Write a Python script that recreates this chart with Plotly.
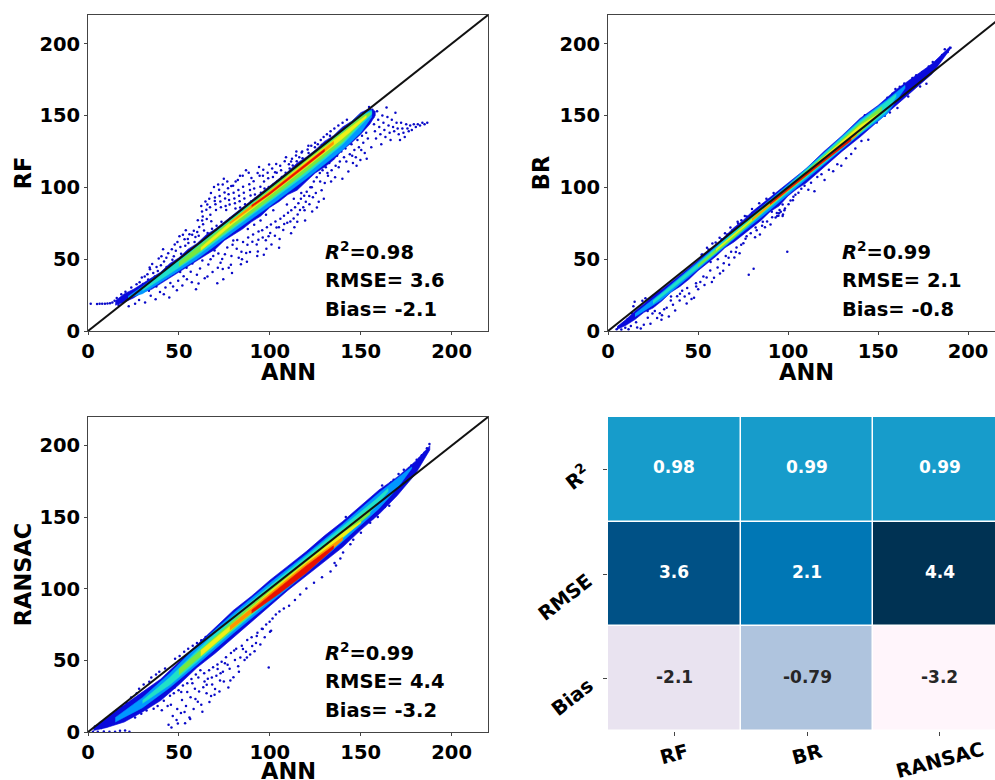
import plotly.graph_objects as go

FONT = "DejaVu Sans"
W, H = 995, 780

# identity reference
line_x = [0, 220]
line_y = [0, 220]
x_ticks = [0, 50, 100, 150, 200]
y_ticks = [0, 50, 100, 150, 200]
x_title = "ANN"

level_colors = ["#0a0adc", "#0098ff", "#20e0c8", "#78e840", "#f0f018", "#ff9400", "#e81000"]

# Density bands: (x, upper, lower) per density level
rf_bands = [
    ([15, 20, 25, 30, 35, 40, 45, 50, 55, 60, 65, 70, 75, 80, 85, 90, 95, 100, 105, 110, 115, 120, 125, 130, 135, 140, 145, 150, 155, 158],
     [21, 26, 29, 33, 37, 41, 47, 51, 57, 61, 67, 71, 76, 81, 86, 91, 96, 101, 106, 111, 117, 121, 126, 132, 136, 142, 146, 152, 155, 153],
     [18, 20, 23, 27, 29, 33, 37, 41, 45, 49, 53, 57, 63, 67, 71, 76, 80, 86, 90, 95, 98, 104, 110, 114, 119, 126, 131, 137, 144, 150]),
    ([22, 30, 45, 60, 80, 100, 120, 140, 150, 156], [24, 31, 45, 60, 80, 100.5, 120.5, 140.5, 151, 154], [23, 26, 38, 50, 69, 87, 106, 126, 138, 149]),
    ([30, 45, 60, 80, 100, 120, 140, 150, 156], [29, 44, 59.5, 79.5, 99.5, 119.5, 139.5, 150, 153], [28, 40, 52.5, 71, 90, 109, 130, 143, 151]),
    ([50, 60, 80, 100, 120, 140, 150, 155], [48, 58, 78.5, 98.5, 119, 138.5, 149, 152], [45, 54, 72.5, 91.5, 111, 131.5, 145, 150.5]),
    ([62, 80, 100, 120, 140, 153], [58, 77.5, 97.5, 118, 137.5, 150], [56, 75, 94.5, 114, 134, 148.5]),
    ([78, 100, 120, 135], [75.5, 97, 117, 132], [74.5, 95, 114.5, 130]),
    ([90, 100, 120, 130], [87.5, 96.5, 116.5, 126.5], [86.5, 95.2, 115.2, 125]),
]
br_bands = [
    ([5, 10, 15, 20, 25, 30, 35, 40, 45, 50, 55, 60, 65, 70, 75, 80, 85, 90, 95, 100, 105, 110, 115, 120, 130, 140, 150, 160, 170, 180, 190],
     [3, 8, 14, 19, 25, 29, 34, 39, 44, 49, 55, 60, 66, 72, 77, 83, 88, 93, 98, 103, 108, 113, 119, 125, 136, 148, 157, 168, 177, 186, 198],
     [1, 4, 8, 13, 16, 21, 27, 31, 36, 42, 47, 52, 58, 62, 67, 72, 77, 83, 87, 94, 99, 103, 108, 114, 125, 135, 146, 157, 168, 179, 196]),
    ([15, 30, 50, 70, 85, 100, 120, 140, 155, 165], [12, 27, 48, 70, 86, 102, 124, 147, 161, 171], [10, 22, 43, 64, 79, 95, 116, 137, 151, 169]),
    ([25, 50, 70, 85, 100, 120, 140, 155, 160], [21, 47, 69, 85, 101, 123.5, 146, 160, 165], [19, 44, 65, 81, 97, 117, 137.5, 153, 163]),
    ([50, 70, 85, 100, 120, 140, 152], [46, 67.5, 84, 100, 122, 144.5, 156], [44.5, 65, 81.5, 97.5, 118, 138, 152]),
    ([60, 85, 100, 120, 140, 150], [57, 83, 99.5, 121, 143, 151], [56, 82, 98, 119, 139, 150]),
    ([80, 100, 120, 138], [78, 99, 119.5, 137], [77, 98, 118, 136]),
    ([90, 100, 120, 135], [89, 98.8, 119, 134], [88, 98, 118, 132.5]),
]
ransac_bands = [
    ([3, 10, 20, 30, 40, 50, 60, 70, 80, 90, 100, 110, 120, 130, 140, 150, 160, 170, 180, 188],
     [3, 10, 19, 28, 37, 49, 61, 73, 85, 95, 106, 116, 126, 137, 147, 158, 169, 178, 189, 200],
     [1, 3, 7, 14, 22, 33, 45, 55, 66, 77, 88, 99, 109, 119, 129, 141, 152, 165, 180, 197]),
    ([15, 30, 45, 60, 80, 100, 120, 140, 160, 170, 178], [10, 24, 41, 60, 83, 104, 124, 145, 167, 177, 185], [7, 17, 31, 47, 69, 90, 111, 133, 156, 170, 184]),
    ([30, 45, 60, 80, 100, 120, 140, 158, 165], [22, 38, 57, 81, 102, 122.5, 143, 162, 170], [20, 33, 49, 71, 92, 113, 135, 157, 168]),
    ([50, 60, 80, 100, 120, 140, 155], [44, 55, 78, 100, 120.5, 141, 156], [40, 50, 72, 93, 114, 136, 152]),
    ([62, 80, 100, 120, 140, 150], [57, 76, 98, 118.5, 139, 147], [53, 73, 94, 115, 136, 146]),
    ([78, 100, 120, 140], [74, 97, 117.5, 136], [71, 93.5, 112, 134]),
    ([90, 105, 120, 135], [85, 100.5, 116, 130], [83, 96.5, 111, 128]),
]

# Speckle: (x, y)
rf_speckle = [
    (1.5, 19), (5, 18.8), (6.4, 19), (7.8, 19), (9.3, 19), (10.7, 19.2), (12.1, 19.4), (13.4, 19.8), (14.6, 21), (15.8, 23), (16.9, 18), (18.3, 25.5), (18.9, 20),
    (20.6, 27.4), (21.7, 24), (22.4, 17.2), (23.8, 30.3), (24.3, 26.8), (25.9, 19), (26.7, 32.6), (27.3, 28.4), (28.1, 21.5), (29.6, 37.2), (30.2, 32.8), (31.4, 19.8),
    (32.7, 39.5), (33.1, 35.8), (33.9, 44.2), (34.5, 24.6), (35.3, 46.6), (35.9, 40.3), (36.8, 37.9), (37.2, 22.1), (38.4, 41.8), (38.9, 50.4), (39.6, 27.1), (40.1, 45.8),
    (41.3, 57), (41.8, 48.4), (42.6, 30.2), (43.2, 44.5), (44.1, 54.2), (44.7, 23.3), (45.3, 33.4), (46.4, 49.6), (47.2, 52.1), (47.7, 60.3), (48.3, 55.9), (48.9, 28.4),
    (49.6, 35), (50.3, 66), (50.8, 58.5), (51.2, 53.7), (51.9, 31.6), (52.6, 38.2), (53.1, 63.9), (53.5, 59.4), (53.8, 70.2), (54.4, 36.1), (55.2, 61.3), (55.8, 67.4),
    (56.5, 41.2), (57.1, 33.9), (58.2, 69.8), (58.6, 62), (59.1, 65.4), (59.4, 29.1), (59.9, 39.2), (60.4, 77.1), (60.9, 66.3), (61.2, 72.4), (61.6, 43.5), (62.3, 87),
    (62.7, 83.2), (63.1, 79.8), (63.3, 74.3), (63.8, 70), (64.2, 36.7), (64.6, 90.2), (65.1, 84.4), (65.3, 78), (65.8, 68.2), (66.2, 46.3), (66.7, 92.1), (67.1, 86.2),
    (67.3, 81), (67.8, 76.4), (68.2, 71.2), (68.5, 41.1), (68.9, 52.3), (69.3, 100.2), (69.8, 93), (70.1, 88.3), (70.4, 84.2), (70.7, 73.2), (71.1, 33.2), (71.4, 44.1),
    (71.7, 54), (72.1, 98.3), (72.4, 94), (72.8, 90.1), (73.1, 86.2), (73.4, 76), (73.8, 50.1), (74.1, 43.2), (74.4, 36), (74.7, 106), (75.1, 96.4), (75.4, 92.2),
    (75.7, 87.1), (76, 84.3), (76.3, 75.2), (76.6, 58.2), (77, 99.3), (77.3, 95.2), (77.6, 91.2), (77.9, 88.1), (78.2, 78.3), (78.6, 46.1), (78.9, 52.2), (79.2, 40.4),
    (79.5, 60.1), (79.8, 101.2), (80.1, 96.3), (80.5, 92.2), (80.8, 89), (81.1, 85.2), (81.4, 80.1), (81.8, 57.2), (82.1, 63.3), (82.4, 105.1), (82.7, 98.2), (83.1, 94.1),
    (83.4, 90.3), (83.7, 86), (84.1, 46.4), (84.4, 55.2), (84.7, 50), (85.1, 108.1), (85.3, 100.4), (85.7, 96.2), (86, 92.3), (86.4, 88.2), (86.7, 84.1), (87, 54.3), (87.4, 48.2),
    (87.7, 60), (88.1, 65.1), (88.4, 110.1), (88.7, 102.2), (89.1, 98.1), (89.4, 94.4), (89.7, 90.1), (90, 87.2), (90.4, 62.2), (90.8, 67.1), (91.1, 104.3), (91.4, 99.2),
    (91.8, 95), (92.1, 92.2), (92.4, 88.3), (92.8, 60.3), (93.1, 52.2), (93.4, 55.3), (93.8, 69.2), (94.1, 114.2), (94.4, 108.1), (94.8, 100.4), (95.1, 96.3), (95.4, 91.2),
    (95.8, 70.1), (96.1, 65.1), (96.4, 112.3), (96.8, 104.1), (97.1, 99.2), (97.4, 94.2), (97.8, 63.2), (98.1, 57.2), (98.4, 72.2), (98.8, 110.1), (99.1, 106.3), (99.4, 100.2),
    (99.8, 95), (100.2, 68.2), (100.6, 74.1), (100.9, 60.2), (101.3, 113.2), (101.7, 107.2), (102.1, 102.1), (102.5, 97.2), (102.8, 66.3), (103.1, 76.2), (103.5, 116.3), (103.8, 110.2),
    (104.2, 104.2), (104.6, 99.3), (105, 72.2), (105.4, 64.1), (105.8, 78.1), (106.2, 112), (106.6, 107.2), (107, 103.4), (107.4, 70.3), (107.8, 80.2), (108.2, 118.2), (108.7, 110.2),
    (109.1, 105), (109.6, 75.3), (110, 82.3), (110.5, 116.1), (110.9, 113.2), (111.3, 76.2), (111.8, 84.1), (112.2, 120), (112.6, 115.2), (113.1, 78.4), (113.5, 72.2), (113.9, 86.2),
    (114.4, 122.2), (114.8, 118.1), (115.3, 81.1), (115.7, 89), (116.2, 121), (116.6, 84.2), (117.1, 92), (117.5, 124.2), (118, 120.2), (118.4, 86.1), (118.9, 94.1), (119.4, 77),
    (119.8, 90), (120.3, 97), (120.8, 126.3), (121.3, 124), (121.8, 88.2), (122.3, 100), (122.8, 129), (123.3, 83.2), (123.7, 93.1), (124.2, 104), (124.8, 128), (125.3, 96), (125.8, 107),
    (126.4, 130), (126.9, 90), (127.5, 110), (128, 133), (128.5, 98), (129, 112), (129.6, 135), (130.2, 103), (130.8, 114), (131.4, 137), (132, 108), (132.7, 117), (133.4, 139),
    (134, 112), (134.8, 120), (135.5, 141), (136.2, 115), (137, 122), (137.7, 143), (138.5, 118), (139.3, 125), (140, 145), (140.8, 121), (141.6, 127), (142.4, 147), (143.2, 111), (144, 123),
    (144.9, 130), (145.7, 117), (146.5, 126), (147.3, 121), (148.2, 133), (149, 128), (149.8, 119), (150.7, 136), (151.4, 131), (152.2, 124), (153, 138), (153.9, 134), (154.6, 156),
    (155.2, 152), (155.8, 128), (156.4, 154), (156.9, 149), (157.3, 144), (157.8, 139), (158.4, 134), (159, 153), (159.6, 147), (160.2, 142), (160.8, 137), (161.3, 130), (161.9, 150),
    (162.5, 145), (163, 140), (163.6, 135), (164.2, 155.6), (164.7, 149), (165.3, 143), (165.9, 138), (166.4, 133), (167.1, 147), (167.8, 142), (168.4, 139), (169.1, 152), (169.7, 145),
    (170.3, 141), (170.9, 137), (171.6, 133), (172.2, 145), (172.9, 141), (173.5, 138), (174.2, 135), (175, 144), (175.7, 141), (176.4, 139), (177.2, 143), (178.1, 140), (179.2, 144),
    (180.3, 142), (181.4, 144), (182.6, 143), (183.9, 145), (185.1, 144), (186.6, 145),
    (33.5, 28), (37.6, 31), (41.7, 25.5), (46.8, 31), (50.7, 41), (54.2, 44), (57.4, 47), (60.8, 33), (62.9, 49), (65.7, 38), (67.4, 50), (69.6, 56), (72.9, 47.5), (75.3, 53.5),
    (77.4, 44), (79.9, 63), (82.9, 51), (85.3, 62), (87.9, 71), (89.1, 55), (91.4, 74), (93.7, 63.5), (94.9, 77), (96.7, 53), (97.9, 81), (99.3, 66), (101.9, 84), (103.7, 72),
    (105.1, 58), (107.9, 74.5), (109.4, 88), (111.7, 68), (113.2, 92), (115.1, 76), (117.3, 96), (119.1, 84), (121.7, 94), (123.1, 100), (125.9, 86), (127.7, 104), (129.7, 92),
    (131.7, 110), (133.7, 104), (135.9, 107), (137.9, 114), (139.9, 106), (142.1, 118), (145.3, 122), (147.7, 115), (150.3, 126), (153.3, 120),
    (28.4, 34), (31.2, 38), (34.1, 43), (37.7, 44.5), (40.4, 52), (43.1, 51), (46.1, 57), (49.2, 62), (52.2, 67), (54.9, 64), (57.3, 67), (60.1, 69), (62.8, 77), (65.6, 88),
    (67.6, 96), (69.7, 90.5), (71.6, 102), (74.1, 102), (76.6, 104), (78.8, 101), (81.2, 104), (83.6, 108), (86.9, 112), (89.9, 106.5), (93.3, 110), (96.2, 108), (99.6, 116),
    (102.9, 110.5), (105.7, 115), (108.9, 121), (111.7, 118), (114.6, 125), (117.8, 125), (121.2, 129), (124.9, 131), (128.6, 129.5), (133.1, 136),
]
br_speckle = [
    (4.8, 1.2), (6.2, 3.1), (7.4, 1.1), (8.8, 5.4), (9.6, 2.2), (10.9, 8.2), (11.4, 1.3), (12.7, 3.4), (13.3, 12.4), (14.1, 17.2), (14.8, 20.3), (15.6, 6.1), (16.2, 2.4), (17.4, 14.2),
    (18.2, 1.8), (19.1, 21.1), (19.9, 4.3), (20.8, 22.8), (22.1, 9.2), (23.6, 5.1), (24.7, 12.2), (25.9, 18.1), (27.3, 9.1), (28.8, 12.3), (29.7, 7.8), (31.2, 15.1), (32.6, 16.2), (33.8, 10.1),
    (34.9, 21.2), (36.1, 18.2), (37.3, 14.3), (38.4, 24.2), (39.8, 21.3), (41.2, 28.1), (42.6, 24), (43.7, 19.1), (45.1, 26.1), (46.4, 22.3), (47.8, 23.1), (48.9, 33.2), (50.1, 29.1), (51.3, 34.2),
    (52.4, 53.2), (53.6, 32.1), (54.8, 37.3), (55.9, 56.8), (56.8, 42.1), (57.7, 34.2), (58.9, 37.1), (59.8, 61.7), (60.9, 44.2), (62.2, 40.1), (63.1, 63.9), (64.3, 47.2), (65.4, 52.3), (66.2, 67.2),
    (67.3, 46.1), (68.4, 55.2), (69.1, 70.1), (70.2, 51.2), (71.4, 58.1), (72.3, 74.9), (73.1, 54.2), (74.1, 77.1), (75.2, 61.1), (76.4, 64.3), (77.1, 79.8), (78.2, 39.2), (79.3, 68.1), (80.1, 82.1),
    (80.9, 43.3), (81.7, 65.2), (82.6, 70.2), (83.3, 85.1), (84.4, 67.1), (85.6, 73.3), (86.3, 88.1), (87.2, 72.2), (88.4, 76.3), (89.2, 91.2), (90.3, 74.1), (91.2, 79.2), (92.4, 94.3), (93.1, 79.1),
    (93.8, 82.2), (94.7, 80.3), (95.3, 84.2), (96.1, 97.8), (97.2, 81.1), (98.3, 85.3), (99.6, 55.1), (100.3, 88.2), (101.4, 90.8), (102.7, 91.1), (104.1, 94.8), (105.8, 96.2), (107.4, 99.1), (109.2, 101.2),
    (111.3, 98.4), (112.8, 103.2), (114.7, 97.3), (116.3, 107.2), (118.6, 109.1), (120.3, 105.1), (122.7, 112.2), (125.1, 111.3), (127.4, 116.1), (129.6, 115.1), (132.3, 120.3), (135.1, 123.2), (137.4, 127.1),
    (140.8, 132.2), (142.7, 150.2), (144.6, 133.1), (147.1, 152.8), (149.3, 145.2), (151.7, 157.1), (153.8, 149.8), (155.2, 162.4), (156.6, 152.2), (158.1, 165.2), (159.7, 168.4), (160.8, 155.3), (162.1, 170.1),
    (163.4, 166.3), (164.6, 172.3), (165.9, 168.1), (166.8, 163.2), (167.9, 174.1), (169.1, 176.2), (169.9, 172.4), (171.2, 178.1), (172.3, 174.3), (173.4, 170.2), (174.6, 180.3), (175.7, 177.1), (176.9, 172.2),
    (178.2, 184.1), (179.3, 180.1), (180.4, 187.2), (181.6, 183.1), (182.9, 186.4), (184.3, 189.1), (185.6, 192.2), (187.1, 196.1), (188.7, 194.2), (190.3, 197.2),
    (22, 14), (26, 14), (30, 11), (35, 24), (40, 26), (44, 30), (49, 31), (53, 38), (57, 48), (61, 50), (64, 42), (67, 51), (71, 55), (74, 60), (77, 66), (82, 72), (86, 76), (91, 83), (97, 88), (103, 93.5),
    (52, 53), (55, 58), (58, 61), (62, 65), (65, 68), (68, 72), (72, 76), (76, 80), (80, 85), (84, 89), (88, 92), (92, 96), (94, 80), (95, 82), (96, 83), (97, 80), (98, 84),
]
ransac_speckle = [
    (2.7, 0.2), (3.8, 3.9), (5.4, 0.1), (6.6, 6.2), (7.3, 2.8), (8.7, 0.3), (9.6, 8.3), (10.2, 4.2), (11.8, 0.2), (12.6, 12.1), (13.4, 6.1), (14.9, 0.1), (15.8, 15.2), (16.7, 8.1), (17.6, 0.9),
    (18.8, 17.3), (19.3, 9.2), (20.4, 1.1), (21.2, 20.3), (22.8, 0.2), (23.7, 24.1), (24.6, 13.2), (25.9, 10.1), (26.8, 27.1), (28.1, 30.2), (29.3, 12.8), (30.6, 33.2), (32.2, 15.1), (33.7, 35.1), (34.8, 38.1),
    (36.1, 16.2), (37.4, 40.2), (38.3, 18.1), (39.2, 42.1), (40.6, 15.2), (41.7, 21.8), (42.4, 44.3), (43.8, 18.1), (44.3, 5.1), (45.1, 25.3), (45.9, 3.2), (46.6, 11.2), (47.2, 27.1), (47.9, 51.1),
    (48.7, 8.3), (49.1, 16.1), (49.8, 29.2), (50.4, 53.1), (51.1, 13.2), (51.7, 22.3), (52.2, 32.4), (52.9, 56.1), (53.4, 6.1), (53.9, 18.2), (54.6, 34.1), (55.1, 58.1), (55.8, 10.1), (56.4, 24.2), (56.9, 37.1),
    (57.6, 60.2), (58.1, 16.1), (58.8, 30.2), (59.3, 40.1), (59.9, 62.1), (60.4, 21.1), (61.1, 28.3), (61.8, 43.1), (62.3, 64.1), (62.9, 14.2), (63.4, 31.2), (64.1, 35.3), (64.7, 66.3), (65.2, 27.1), (65.9, 37.2),
    (66.6, 43.2), (67.1, 68.2), (67.7, 25.1), (68.3, 33.2), (68.8, 45.3), (69.4, 70.2), (69.9, 30.1), (70.6, 39.2), (71.2, 47.1), (71.8, 72.3), (72.3, 28.2), (72.9, 41.1), (73.5, 49.1), (74.1, 74.2), (74.7, 35.3),
    (75.3, 48.1), (75.9, 52.2), (76.6, 77.2), (77.2, 31.1), (77.9, 44.1), (78.6, 55.2), (79.3, 79.4), (80, 38.3), (80.8, 50.2), (81.5, 58.1), (82.2, 81.2), (83, 42.1), (83.8, 52.1), (84.6, 60.2), (85.3, 85.3),
    (86.1, 50.2), (86.9, 56.1), (87.6, 64.2), (88.4, 88.3), (89.2, 54.1), (90, 66.2), (90.8, 91.1), (91.6, 56.4), (92.4, 62.1), (93.2, 69.3), (94, 94.2), (94.8, 61.1), (95.6, 72.1), (96.4, 96.3), (97.2, 66.1),
    (98, 75.1), (98.9, 99.2), (99.4, 45), (100.1, 70.1), (100.7, 70.8), (101.5, 79.3), (102.4, 102.2), (103.3, 82.1), (104.2, 105.1), (105.3, 84.1), (106.5, 108.3), (107.7, 86.2), (109.3, 110.2), (110.6, 88.1),
    (112.2, 114.1), (113.8, 92.2), (115.3, 118.3), (116.7, 96.1), (118.4, 122.2), (120.1, 100.2), (122.4, 126.3), (124.3, 104.2), (126.6, 130.1), (128.7, 108.1), (131.1, 134.2), (133.4, 112.1), (135.6, 118.1), (136.4, 116.3),
    (138.8, 121.2), (140.3, 125.3), (141.8, 150.2), (144.3, 131.1), (145.9, 134.2), (147.4, 153.2), (150.1, 139.1), (152.3, 156.3), (155.2, 146.1), (156.4, 149.2), (157.9, 160.1), (159.4, 150.1), (160.6, 168.3), (161.8, 172.2),
    (163.2, 157.1), (164.1, 171.3), (165.7, 158.1), (166.6, 174.3), (168.1, 176.1), (169.3, 166.2), (170.8, 180.2), (172.1, 172.3), (173.7, 183.1), (175.1, 177.2), (176.6, 184.1), (177.8, 186.2), (179.4, 187.1), (180.8, 190.2),
    (182.3, 191.1), (183.6, 193.2), (185.1, 195.1), (186.4, 198.2), (187.8, 201.1),
    (45.6, 19), (47.6, 31), (49.4, 6), (51.3, 28), (53.1, 14), (54.6, 28), (56.2, 9), (57.4, 34), (59.1, 23), (60.7, 38), (62.3, 19), (63.9, 41), (65.3, 33), (66.8, 21), (68.1, 38), (69.6, 26),
    (71.3, 44), (72.6, 36), (74.2, 42), (76.8, 47), (78.3, 36), (80.4, 57), (82.6, 46), (85.2, 58), (87.4, 52), (90.3, 60), (92.8, 67), (96.1, 72), (99.9, 77),
]

# Metrics
model_names = ["RF", "BR", "RANSAC"]
metric_names = ["R<sup>2</sup>", "RMSE", "Bias"]
r2_vals = [0.98, 0.99, 0.99]
rmse_vals = [3.6, 2.1, 4.4]
bias_vals = [-2.1, -0.79, -3.2]
r2_text = ["0.98", "0.99", "0.99"]
rmse_text = ["3.6", "2.1", "4.4"]
bias_text = ["-2.1", "-0.79", "-3.2"]
row_text_colors = ["#ffffff", "#ffffff", "#262626"]
panel_stats = [
    ("RF", "0.98", "3.6", "-2.1"),
    ("BR", "0.99", "2.1", "-0.8"),
    ("RANSAC", "0.99", "4.4", "-3.2"),
]

# colormap stops: value -> colour
cmap_vals = [-3.2, -2.1, -0.79, 0.98, 2.1, 3.6, 4.4]
cmap_cols = ["#fff5fb", "#e9e3f0", "#afc4de", "#179ccb", "#0077b5", "#005186", "#003253"]

fig = go.Figure()


def band(x, up, lo, color, xa, ya):
    fig.add_trace(go.Scatter(
        x=list(x) + list(x)[::-1], y=list(up) + list(lo)[::-1], mode="lines",
        fill="toself", fillcolor=color, line=dict(width=0.6, color=color),
        xaxis=xa, yaxis=ya, showlegend=False, hoverinfo="skip"))


panels = [
    (rf_bands, rf_speckle, "x", "y"),
    (br_bands, br_speckle, "x2", "y2"),
    (ransac_bands, ransac_speckle, "x3", "y3"),
]
for bands, speckle, xa, ya in panels:
    fig.add_trace(go.Scatter(x=[p[0] for p in speckle], y=[p[1] for p in speckle], mode="markers",
                             xaxis=xa, yaxis=ya, showlegend=False,
                             marker=dict(size=2.5, color="#0a0ac8"), hoverinfo="skip"))
    for b, c in zip(bands, level_colors):
        band(*b, c, xa, ya)
    fig.add_trace(go.Scatter(x=line_x, y=line_y, mode="lines", xaxis=xa, yaxis=ya, showlegend=False,
                             line=dict(color="#111111", width=2), hoverinfo="skip"))

# heatmap
lo_v, hi_v = min(cmap_vals), max(cmap_vals)
colorscale = [[(v - lo_v) / (hi_v - lo_v), c] for v, c in zip(cmap_vals, cmap_cols)]
fig.add_trace(go.Heatmap(
    z=[r2_vals, rmse_vals, bias_vals], x=[0, 1, 2], y=[0, 1, 2],
    colorscale=colorscale, zmin=lo_v, zmax=hi_v, showscale=False, xgap=1.5, ygap=1.5,
    xaxis="x4", yaxis="y4", hoverinfo="skip"))


def dom_x(a, b):
    return [a / W, min(b / W, 1)]


def dom_y(top, bottom):
    return [1 - bottom / H, 1 - top / H]


tick_font = dict(family=FONT, size=19.5, color="#000000", weight="bold")
title_font = dict(family=FONT, size=22.5, color="#000000", weight="bold")
label_font = dict(family=FONT, size=19.5, color="#000000", weight="bold")
axis_common = dict(showgrid=False, zeroline=False, showline=True, linecolor="#444444", linewidth=1,
                   ticks="outside", ticklen=3, tickcolor="#444444", tickfont=tick_font, automargin=False,
                   tickmode="array", tickvals=x_ticks, ticktext=[str(t) for t in x_ticks])

fig.update_layout(
    width=W, height=H, margin=dict(l=0, r=0, t=0, b=0, pad=0), paper_bgcolor="white", plot_bgcolor="white",
    font=dict(family=FONT),
    xaxis=dict(domain=dom_x(88, 488), range=[0, 220], anchor="y", mirror=True, **axis_common),
    yaxis=dict(domain=dom_y(15, 331), range=[0, 220], anchor="x", mirror=True,
               title=dict(text="RF", font=title_font, standoff=1), **axis_common),
    xaxis2=dict(domain=dom_x(608, 995), range=[0, 215], anchor="y2", mirror=True, **axis_common),
    yaxis2=dict(domain=dom_y(15, 331), range=[0, 220], anchor="x2",
                title=dict(text="BR", font=title_font, standoff=3), **axis_common),
    xaxis3=dict(domain=dom_x(88, 488), range=[0, 220], anchor="y3", mirror=True, **axis_common),
    yaxis3=dict(domain=dom_y(417, 732), range=[0, 220], anchor="x3", mirror=True,
                title=dict(text="RANSAC", font=title_font, standoff=1), **axis_common),
    xaxis4=dict(domain=dom_x(608, 995), range=[-0.5, 2.416], anchor="y4", showgrid=False, zeroline=False,
                tickmode="array", tickvals=[0, 1, 2], showticklabels=False, automargin=False,
                ticks="outside", ticklen=4, tickcolor="#444444"),
    yaxis4=dict(domain=dom_y(417, 731), range=[2.5, -0.5], anchor="x4", showgrid=False, zeroline=False,
                tickmode="array", tickvals=[0, 1, 2], showticklabels=False, automargin=False,
                ticks="outside", ticklen=4, tickcolor="#444444"),
)

# statistics inside panels
anchors = [("x", "y"), ("x2", "y2"), ("x3", "y3")]
for (name, r2, rmse, bias), (xa, ya) in zip(panel_stats, anchors):
    lines = [(f"<i>R</i><sup>2</sup>=<b>{r2}</b>", 55.7), (f"RMSE= {rmse}", 35), (f"Bias= {bias}", 15)]
    for txt, yv in lines:
        fig.add_annotation(x=129, y=yv, xref=xa, yref=ya, text=txt, showarrow=False, xanchor="left",
                           yanchor="middle", font=dict(family=FONT, size=19.5, color="#000000", weight="bold"))

# x titles: placed directly, since panel 2's axis runs beyond the page and panel 3's title sits at the page edge
for xa, py in [("x", 372), ("x2", 372), ("x3", 771)]:
    fig.add_annotation(x=110, xref=xa, y=1 - py / H, yref="paper", text=x_title, showarrow=False,
                       xanchor="center", yanchor="middle", font=title_font)

# heatmap cell values
for r, (row, col) in enumerate(zip([r2_text, rmse_text, bias_text], row_text_colors)):
    for c, t in enumerate(row):
        fig.add_annotation(x=c, y=r, xref="x4", yref="y4", text=t, showarrow=False, yshift=2,
                           xanchor="center", yanchor="middle",
                           font=dict(family=FONT, size=17, color=col, weight="bold"))

# heatmap category labels (rotated about their centres)
for i, (name, py) in enumerate(zip(model_names, [754, 754, 760])):
    fig.add_annotation(x=i, xref="x4", y=1 - py / H, yref="paper", text=name, showarrow=False, textangle=-15,
                       xanchor="center", yanchor="middle", font=label_font)
for name, py, px in zip(metric_names, [477, 597, 697], [577, 565, 572]):
    fig.add_annotation(x=px / W, xref="paper", y=1 - py / H, yref="paper", text=name, showarrow=False, textangle=-38,
                       xanchor="center", yanchor="middle", font=label_font)

fig.write_html("out.html", config={"displayModeBar": False},
               post_script="document.body.style.margin='0';document.documentElement.style.overflow='hidden';")
